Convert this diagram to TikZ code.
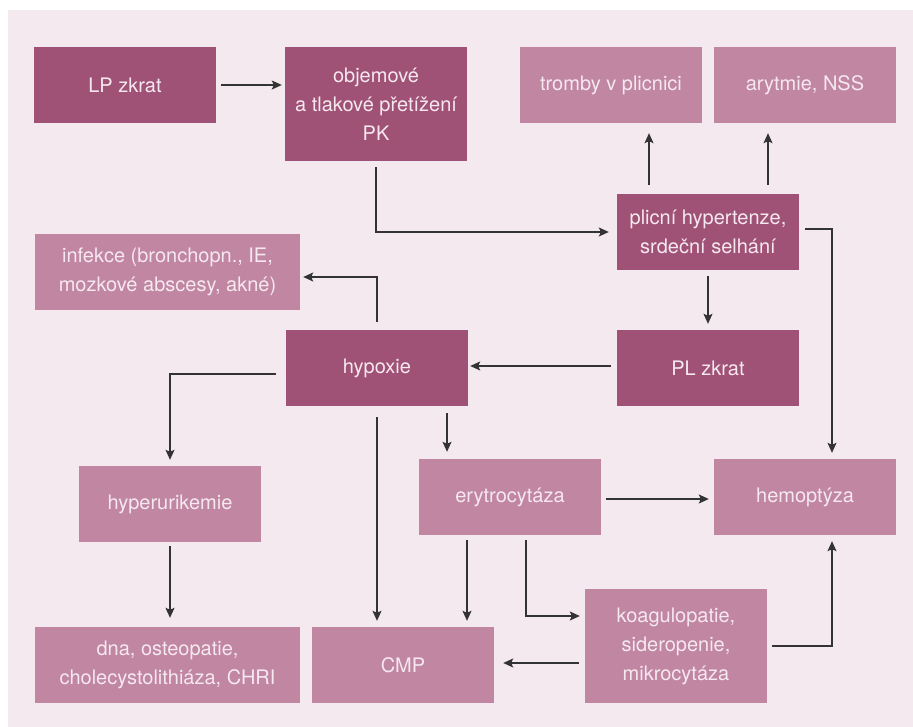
\documentclass[tikz,border=0pt]{standalone}
\usepackage{fontspec}
\setmainfont{TeX Gyre Heros}
\usetikzlibrary{arrows.meta}

\definecolor{bgpink}{HTML}{F4E9EE}
\definecolor{darkbox}{HTML}{A05276}
\definecolor{lightbox}{HTML}{C086A2}
\definecolor{boxtext}{HTML}{F6E8EF}
\definecolor{linegray}{HTML}{333333}

\begin{document}
\begin{tikzpicture}[
	x = 1pt, y = -1pt,  % pixel-like grid, y runs down
	every node/.style = {rectangle, inner sep=0pt, align=center, text=boxtext,
		minimum width=182pt, minimum height=76pt, font=\fontsize{20}{29}\selectfont},
	dark/.style = {fill=darkbox},
	light/.style = {fill=lightbox},
	wide/.style = {minimum width=265pt},
	tall/.style = {minimum height=114pt},
	conn/.style = {draw=linegray, line width=1.2pt, -{Stealth[length=10pt, width=9pt, inset=2pt]}}
	]
	
	\useasboundingbox (0,0) rectangle (913,727);
	\fill[bgpink] (8,10) rectangle (913,727);
	
	\begin{scope}
	% top row
	\node[dark] (lpzkrat) at (125,85) {LP zkrat};
	\node[dark, tall] (pretizeni) at (376,104) {objemové\\a tlakové přetížení\\PK};
	\node[light] (tromby) at (611,85) {tromby v plicnici};
	\node[light] (arytmie) at (805,85) {arytmie, NSS};
	% middle
	\node[dark] (hypertenze) at (708,232) {plicní hypertenze,\\srdeční selhání};
	\node[light, wide] (infekce) at (167.5,272) {infekce (bronchopn., IE,\\mozkové abscesy, akné)};
	\node[dark] (hypoxie) at (377,368) {hypoxie};
	\node[dark] (plzkrat) at (708,368) {PL zkrat};
	\node[light] (hyperurikemie) at (170,504) {hyperurikemie};
	\node[light] (erytrocytaza) at (510,497) {erytrocytáza};
	\node[light] (hemoptyza) at (805,497) {hemoptýza};
	% bottom row
	\node[light, wide] (dna) at (167.5,665) {dna, osteopatie,\\cholecystolithiáza, CHRI};
	\node[light] (cmp) at (403,665) {CMP};
	\node[light, tall] (koagulopatie) at (676,646) {koagulopatie,\\sideropenie,\\mikrocytáza};
	
	\draw[conn, shorten <=5pt, shorten >=3pt] (lpzkrat.east) -- (pretizeni.west |- lpzkrat.east);
	\draw[conn, shorten <=6pt, shorten >=8pt] (pretizeni.south) |- (hypertenze.west);
	\draw[conn, shorten <=9pt, shorten >=10pt] ([xshift=-59pt]hypertenze.north) -- ([xshift=-59pt]hypertenze.north |- tromby.south);
	\draw[conn, shorten <=9pt, shorten >=10pt] ([xshift=60pt]hypertenze.north) -- ([xshift=60pt]hypertenze.north |- arytmie.south);
	\draw[conn, shorten <=6pt, shorten >=6pt] ([shift={(0pt,3pt)}]hypertenze.east) -| ([xshift=27pt]hemoptyza.north);
	\draw[conn, shorten <=6pt, shorten >=6pt] (hypertenze.south) -- (plzkrat.north);
	\draw[conn, shorten <=6pt, shorten >=2pt] ([yshift=2pt]plzkrat.west) -- ([yshift=2pt]hypoxie.east);
	\draw[conn, shorten <=8pt, shorten >=3pt] (hypoxie.north) |- ([yshift=-5pt]infekce.east);
	\draw[conn, shorten <=10pt, shorten >=6pt] ([yshift=-6pt]hypoxie.west) -| (hyperurikemie.north);
	\draw[conn, shorten <=11pt, shorten >=6pt] (hypoxie.south) -- (hypoxie.south |- cmp.north);
	\draw[conn, shorten <=7pt, shorten >=7pt] ([xshift=70pt]hypoxie.south) -- ([xshift=70pt]hypoxie.south |- erytrocytaza.north);
	\draw[conn, shorten <=4pt, shorten >=9pt] (hyperurikemie.south) -- (hyperurikemie.south |- dna.north);
	\draw[conn, shorten <=5pt, shorten >=5pt] ([yshift=-2pt]erytrocytaza.east) -- ([yshift=-2pt]hemoptyza.west);
	\draw[conn, shorten <=5pt, shorten >=6pt] ([xshift=-43pt]erytrocytaza.south) -- ([xshift=-43pt]erytrocytaza.south |- cmp.north);
	\draw[conn, shorten <=5pt, shorten >=5pt] ([xshift=16pt]erytrocytaza.south) |- ([yshift=30pt]koagulopatie.west);
	\draw[conn, shorten <=6pt, shorten >=9pt] ([yshift=-17pt]koagulopatie.west) -- ([yshift=-17pt]koagulopatie.west -| cmp.east);
	\draw[conn, shorten <=5pt, shorten >=6pt] (koagulopatie.east) -| ([xshift=27pt]hemoptyza.south);
	\end{scope}
\end{tikzpicture}
\end{document}
